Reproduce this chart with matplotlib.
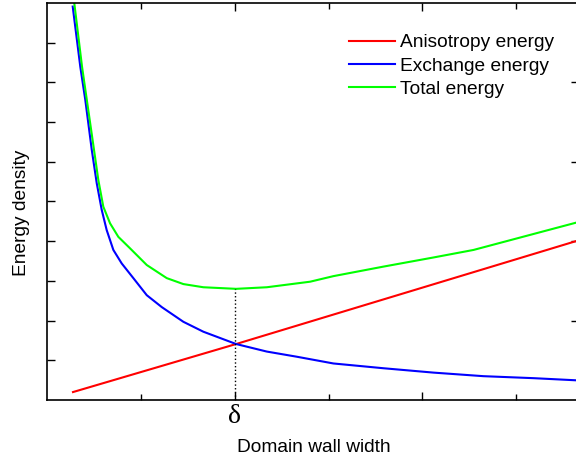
import matplotlib
matplotlib.use('Agg')
import matplotlib.pyplot as plt

# values (x: wall width, y: energy density, arbitrary units)
aniso_x = [0.277, 2.015, 5.69]
aniso_y = [0.20, 1.41, 4.04]

exch_x = [0.274, 0.355, 0.408, 0.477, 0.530, 0.583, 0.636, 0.707, 0.796, 0.920,
          1.063, 1.223, 1.453, 1.666, 1.880, 2.015, 2.342, 2.662, 3.052, 3.585,
          4.118, 4.651, 5.184, 5.69]
exch_y = [9.91, 8.39, 7.56, 6.30, 5.46, 4.79, 4.28, 3.78, 3.44, 3.07,
          2.64, 2.34, 1.97, 1.72, 1.53, 1.41, 1.22, 1.09, 0.92, 0.80,
          0.69, 0.60, 0.55, 0.49]

total_x = [0.288, 0.373, 0.501, 0.547, 0.600, 0.672, 0.760, 0.885, 1.063, 1.276,
           1.453, 1.666, 2.015, 2.342, 2.804, 3.052, 3.585, 4.118, 4.545, 5.69]
total_y = [10.05, 8.40, 6.30, 5.54, 4.87, 4.45, 4.11, 3.82, 3.40, 3.07,
           2.92, 2.84, 2.80, 2.84, 2.98, 3.12, 3.36, 3.59, 3.78, 4.50]

delta_x = 2.0
delta_min = 2.80

plt.rcParams['font.family'] = ['Liberation Sans', 'DejaVu Sans']

fig = plt.figure(figsize=(5.76, 4.61), dpi=100)
ax = fig.add_axes([47/576, 61/461, 534/576, 397/461])

ax.plot(aniso_x, aniso_y, color='#ff0000', lw=1.5, label='Anisotropy energy')
ax.plot(exch_x, exch_y, color='#0000ff', lw=1.5, solid_joinstyle='round',
        label='Exchange energy')
ax.plot(total_x, total_y, color='#00ff00', lw=1.5, solid_joinstyle='round',
        label='Total energy')
ax.plot([delta_x, delta_x], [0, delta_min], color='black', lw=1, ls=':')

ax.set_xlim(0, 5.69)
ax.set_ylim(0, 10)

for s in ax.spines.values():
    s.set_linewidth(1.2)

ax.set_xticks([2, 4])
ax.set_xticklabels(['δ', ''], family=['Liberation Serif', 'DejaVu Serif'], fontsize=20)
ax.set_xticks([1, 3, 5], minor=True)
ax.set_yticks(range(1, 10))
ax.set_yticklabels([])
ax.tick_params(axis='x', which='major', direction='in', length=6, width=1, top=True, pad=3)
ax.tick_params(axis='x', which='minor', direction='in', length=4, width=1, top=True)
ax.tick_params(axis='y', which='major', direction='in', length=6, width=1, right=False)

sec = ax.secondary_yaxis('right')
sec.set_yticks([2, 4, 6, 8])
sec.set_yticklabels([])
sec.tick_params(direction='in', length=7, width=1)
sec.spines['right'].set_linewidth(1.2)

ax.set_xlabel('Domain wall width', fontsize=13.8, labelpad=7)
ax.set_ylabel('Energy density', fontsize=13.8)
ax.yaxis.set_label_coords(-0.031, 0.471)

ax.legend(loc='upper left', bbox_to_anchor=(0.565, 0.922), frameon=False,
          fontsize=13.8, handlelength=2.4, handletextpad=0.3, labelspacing=0.31,
          borderpad=0, borderaxespad=0)

fig.savefig('out.png', dpi=100)
